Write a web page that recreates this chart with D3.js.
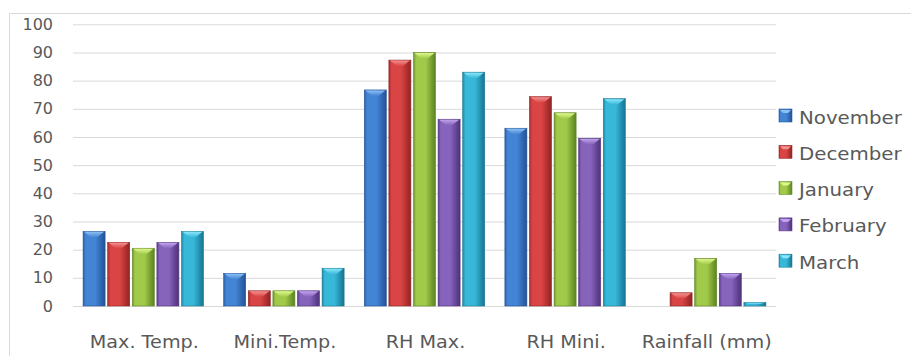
<!DOCTYPE html>
<html>
<head>
<meta charset="utf-8">
<script src="https://cdn.jsdelivr.net/npm/d3@7"></script>
<style>
  html, body { margin: 0; padding: 0; background: #fff; }
  svg { display: block; }
  text { font-family: "DejaVu Sans", sans-serif; fill: #595959; }
</style>
</head>
<body>
<svg id="chart" width="911" height="356"></svg>
<script>
// Climate parameters by month
const categories = ["Max. Temp.", "Mini.Temp.", "RH Max.", "RH Mini.", "Rainfall (mm)"];
const months = ["November", "December", "January", "February", "March"];
const november = [26.5, 11.6, 76.7, 63.1, 0];
const december = [22.6, 5.4, 87.3, 74.3, 4.7];
const january  = [20.5, 5.4, 90.0, 68.6, 16.9];
const february = [22.6, 5.4, 66.3, 59.5, 11.6];
const march    = [26.5, 13.4, 83.0, 73.6, 1.3];
const yTicks = [0, 10, 20, 30, 40, 50, 60, 70, 80, 90, 100];

const seriesValues = [november, december, january, february, march];

// Colour for each month: edge, centre, bevel highlight
const palette = [
  { edge: "#2b5fa8", mid: "#4384d4", hi: "#8cc0f4" },
  { edge: "#a52b2b", mid: "#d94444", hi: "#f49090" },
  { edge: "#6d962b", mid: "#a2ca4a", hi: "#def78c" },
  { edge: "#5c3d8c", mid: "#8664bc", hi: "#c2a2ee" },
  { edge: "#1e86a6", mid: "#38b8d8", hi: "#8ae6fa" }
];

const svg = d3.select("#chart");
const plot = { left: 73, right: 776, top: 24.3, bottom: 306 };

const x0 = d3.scaleBand().domain(categories)
  .range([plot.left, plot.right]).paddingInner(0.125).paddingOuter(0.0625);
const x1 = d3.scaleBand().domain(months)
  .range([0, x0.bandwidth()]).paddingInner(0.105).paddingOuter(0.0525);
const y = d3.scaleLinear().domain([0, 100]).range([plot.bottom, plot.top]);

// Gradients giving each bar a rounded, bevelled look
const defs = svg.append("defs");
palette.forEach((c, i) => {
  const g = defs.append("linearGradient").attr("id", "bar" + i)
    .attr("x1", "0%").attr("x2", "100%").attr("y1", "0%").attr("y2", "0%");
  g.append("stop").attr("offset", "0%").attr("stop-color", c.edge);
  g.append("stop").attr("offset", "12%").attr("stop-color", c.mid);
  g.append("stop").attr("offset", "55%").attr("stop-color", c.mid);
  g.append("stop").attr("offset", "88%").attr("stop-color", c.edge);
  g.append("stop").attr("offset", "100%").attr("stop-color", d3.color(c.edge).darker(0.4));
  const h = defs.append("linearGradient").attr("id", "cap" + i)
    .attr("x1", "0%").attr("x2", "0%").attr("y1", "0%").attr("y2", "100%");
  h.append("stop").attr("offset", "0%").attr("stop-color", c.hi);
  h.append("stop").attr("offset", "100%").attr("stop-color", c.mid);
});

// Outer chart frame
svg.append("path")
  .attr("d", "M9.5,356 V13.5 H911")
  .attr("fill", "none").attr("stroke", "#d9d9d9").attr("stroke-width", 1);

// Horizontal gridlines and value axis labels
const yAxis = d3.axisLeft(y).tickValues(yTicks)
  .tickSize(-(plot.right - plot.left)).tickPadding(20);
const yg = svg.append("g").attr("transform", `translate(${plot.left},0)`).call(yAxis);
yg.select(".domain").remove();
yg.selectAll(".tick line").attr("stroke", "#d9d9d9");
yg.selectAll(".tick text")
  .attr("font-family", "DejaVu Sans, sans-serif")
  .attr("font-size", 16).attr("fill", "#595959");

// Category labels (slightly widened to suit the wide display face)
const xAxis = d3.axisBottom(x0).tickSize(0).tickPadding(0);
const xg = svg.append("g").attr("transform", `translate(0,${plot.bottom})`).call(xAxis);
xg.select(".domain").remove();
xg.selectAll(".tick text")
  .attr("font-family", "DejaVu Sans, sans-serif")
  .attr("font-size", 17).attr("fill", "#595959")
  .attr("dy", 0).attr("y", 0)
  .attr("transform", "translate(1,42) scale(1.13,1)");

// Bars
const rows = categories.map((cat, ci) => ({
  cat, vals: months.map((m, mi) => ({ m, mi, v: seriesValues[mi][ci] }))
}));

const groups = svg.append("g").selectAll("g").data(rows).join("g")
  .attr("transform", d => `translate(${x0(d.cat)},0)`);

const bars = groups.selectAll("g").data(d => d.vals.filter(v => v.v > 0)).join("g");

bars.append("rect")
  .attr("x", d => x1(d.m))
  .attr("y", d => y(d.v))
  .attr("width", x1.bandwidth())
  .attr("height", d => y(0) - y(d.v))
  .attr("fill", d => `url(#bar${d.mi})`)
  .attr("stroke", d => d3.color(palette[d.mi].edge).darker(0.3))
  .attr("stroke-width", 0.6);

// Bevel highlight on the top of each bar
bars.append("path")
  .attr("d", d => {
    const bx = x1(d.m), w = x1.bandwidth(), top = y(d.v);
    const h = Math.min(6, (y(0) - top) * 0.6);
    return `M${bx + 1},${top + 0.5} H${bx + w - 1} L${bx + w / 2 + 3},${top + h} H${bx + w / 2 - 3} Z`;
  })
  .attr("fill", d => `url(#cap${d.mi})`);

// Legend
const legend = svg.append("g").selectAll("g").data(months).join("g")
  .attr("transform", (d, i) => `translate(779,${109 + i * 36.3})`);
legend.append("rect")
  .attr("width", 13).attr("height", 13)
  .attr("fill", (d, i) => `url(#bar${i})`)
  .attr("stroke", (d, i) => palette[i].edge).attr("stroke-width", 0.6);
legend.append("path")
  .attr("d", "M1,1 H12 L9,4 H4 Z")
  .attr("fill", (d, i) => palette[i].hi);
legend.append("text")
  .attr("x", 0).attr("y", 0)
  .attr("transform", "translate(20,14.5) scale(1.1,1)")
  .attr("font-size", 18)
  .text(d => d);
</script>
</body>
</html>
